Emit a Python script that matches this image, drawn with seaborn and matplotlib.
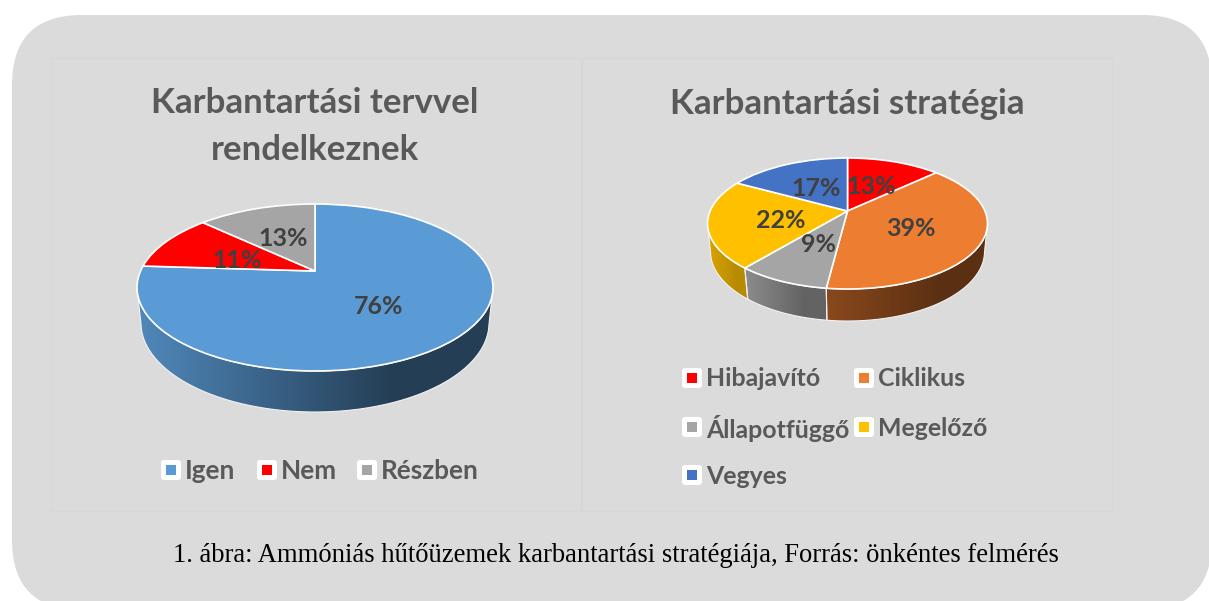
import numpy as np
import matplotlib
matplotlib.use('Agg')
import matplotlib.pyplot as plt
import seaborn as sns
from matplotlib.colors import LinearSegmentedColormap, to_rgb
from matplotlib.patches import FancyBboxPatch, Polygon, Rectangle
from matplotlib.transforms import Transform

# data
plan_labels = ['Igen', 'Nem', 'Részben']
plan_values = [76, 11, 13]
plan_colors = ['#5B9BD5', '#FF0000', '#A5A5A5']

strategy_labels = ['Hibajavító', 'Ciklikus', 'Állapotfüggő', 'Megelőző', 'Vegyes']
strategy_values = [13, 39, 9, 22, 17]
strategy_colors = ['#FF0000', '#ED7D31', '#A5A5A5', '#FFC000', '#4472C4']

title_left = 'Karbantartási tervvel\nrendelkeznek'
title_right = 'Karbantartási stratégia'
caption = '1. ábra: Ammóniás hűtőüzemek karbantartási stratégiája, Forrás: önkéntes felmérés'

sns.set_theme(style='white')
plt.rcParams['font.family'] = ['Lato', 'DejaVu Sans']


class Tilted(Transform):
    # unit circle -> tilted disc in pixel coordinates
    input_dims = 2
    output_dims = 2
    is_separable = False
    has_inverse = False

    def __init__(self, cx, apex, top, bottom, half_w):
        super().__init__()
        p, q = apex - top, bottom - apex
        self.k = (p - q) / (p + q)
        self.b = p * (1 - self.k)
        self.a = half_w * np.sqrt(1 - self.k ** 2)
        self.cx, self.apex = cx, apex

    def transform_non_affine(self, values):
        v = np.asarray(values, float)
        w = 1 - self.k * v[:, 1]
        return np.column_stack([self.cx + self.a * v[:, 0] / w,
                                self.apex - self.b * v[:, 1] / w])


def draw_disc(ax, values, colors, top_face, low_face, shades):
    wedges, _ = ax.pie(values, colors=colors, startangle=90, counterclock=False,
                       frame=True, wedgeprops=dict(edgecolor='white', linewidth=1.2))
    for w in wedges:
        w.set_transform(top_face + ax.transData)
        w.set_zorder(4)
    cum = np.cumsum([0] + list(values)) / sum(values)
    limit = np.degrees(np.arcsin(top_face.k))
    for i, color in enumerate(colors):
        hi = min(90 - 360 * cum[i], limit)
        lo = max(90 - 360 * cum[i + 1], -180 - limit)
        if hi <= lo:
            continue
        t = np.radians(np.linspace(hi, lo, 80))
        circle = np.column_stack([np.cos(t), np.sin(t)])
        upper = top_face.transform(circle)
        lower = low_face.transform(circle)
        outline = np.vstack([upper, lower[::-1]])
        poly = Polygon(outline, closed=True, facecolor='none', edgecolor='#F2F2F2',
                       linewidth=0.8, zorder=3)
        ax.add_patch(poly)
        light, dark = shades[i]
        rgb = np.array(to_rgb(color))
        cmap = LinearSegmentedColormap.from_list(
            'wall', [(0, rgb * light), (0.72, rgb * dark), (1, rgb * dark)])
        grad = np.linspace(0, 1, 256).reshape(1, -1)
        im = ax.imshow(grad, cmap=cmap, vmin=0, vmax=1, aspect='auto', zorder=2,
                       extent=(outline[:, 0].min(), outline[:, 0].max(),
                               outline[:, 1].max(), outline[:, 1].min()))
        im.set_clip_path(poly)


def draw_key(ax, x, y, color, label, size):
    ax.add_patch(FancyBboxPatch((x - 8, y - 8), 16, 16, boxstyle='round,pad=2,rounding_size=3',
                                facecolor='white', edgecolor='none', zorder=4))
    ax.add_patch(Rectangle((x - 5, y - 5), 10, 10, facecolor=color, edgecolor='none', zorder=5))
    ax.text(x + 14, y + 1, label, fontsize=size, fontweight='bold', color='#595959',
            va='center', ha='left', zorder=5)


fig = plt.figure(figsize=(12.09, 6.01), dpi=100, facecolor='white')
ax = fig.add_axes([0, 0, 1, 1])

# gray card and the two chart frames
ax.add_patch(FancyBboxPatch((82, 85), 1060, 455, boxstyle='round,pad=70,rounding_size=70',
                            facecolor='#DBDBDB', edgecolor='none', zorder=0))
ax.add_patch(Rectangle((51, 58), 530, 453, fill=False, edgecolor='#D7D7D7', linewidth=0.8, zorder=1))
ax.add_patch(Rectangle((582, 58), 530, 453, fill=False, edgecolor='#D7D7D7', linewidth=0.8, zorder=1))

draw_disc(ax, plan_values, plan_colors,
          Tilted(315, 271, 204, 371, 178), Tilted(315, 307, 234, 412, 174),
          [(0.88, 0.40), (0.6, 0.4), (0.6, 0.4)])
draw_disc(ax, strategy_values, strategy_colors,
          Tilted(847.5, 211, 158, 289, 140), Tilted(847.5, 239, 182, 321, 137),
          [(0.6, 0.4), (0.58, 0.38), (0.85, 0.6), (0.85, 0.72), (0.6, 0.4)])

ax.set_aspect('auto')
ax.set_xlim(0, 1209)
ax.set_ylim(601, 0)
ax.axis('off')

# titles
ax.text(315, 103, title_left.split('\n')[0], fontsize=25.1, fontweight='bold', color='#595959',
        ha='center', va='center', zorder=5)
ax.text(315, 150, title_left.split('\n')[1], fontsize=25.1, fontweight='bold', color='#595959',
        ha='center', va='center', zorder=5)
ax.text(847, 104, title_right, fontsize=25.1, fontweight='bold', color='#595959',
        ha='center', va='center', zorder=5)

# value labels
plan_pos = [(379, 306), (237, 260), (283, 239)]
for v, (x, y) in zip(plan_values, plan_pos):
    ax.text(x, y, f'{v}%', fontsize=18, fontweight='bold', color='#404040',
            ha='center', va='center', zorder=6)
strategy_pos = [(871, 187), (911, 229), (819, 244), (781, 221), (816, 188)]
for v, (x, y) in zip(strategy_values, strategy_pos):
    ax.text(x, y, f'{v}%', fontsize=18, fontweight='bold', color='#404040',
            ha='center', va='center', zorder=6)

# legends
for (x, y), c, l in zip([(171, 470), (267, 470), (367, 470)], plan_colors, plan_labels):
    draw_key(ax, x, y, c, l, 18.8)
key_pos = [(692, 378), (864, 378), (692, 427), (864, 427), (692, 475)]
for (x, y), c, l in zip(key_pos, strategy_colors, strategy_labels):
    draw_key(ax, x, y, c, l, 17.9)

ax.text(616, 555, caption, fontsize=19.2, family='Liberation Serif', color='black',
        ha='center', va='center', zorder=5)

fig.savefig('out.png', dpi=100)
